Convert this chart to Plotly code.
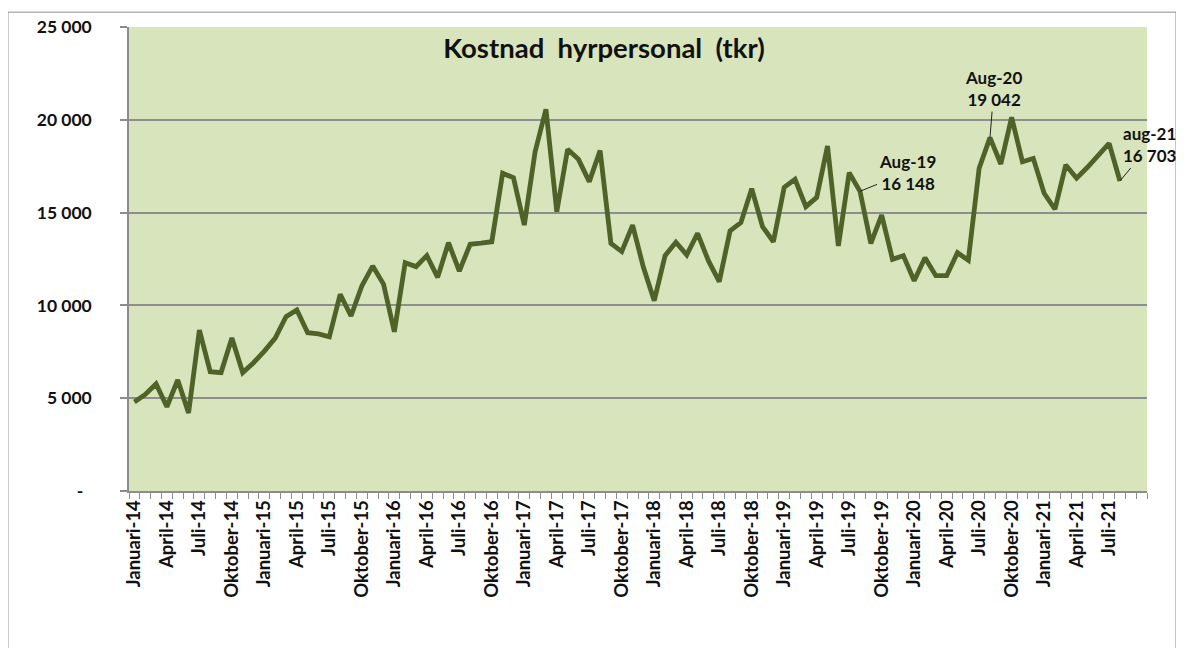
import plotly.graph_objects as go

month_names = ["Januari", "Februari", "Mars", "April", "Maj", "Juni", "Juli",
               "Augusti", "September", "Oktober", "November", "December"]
years = [14, 15, 16, 17, 18, 19, 20, 21]

values_2014 = [4800, 5200, 5770, 4540, 5980, 4200, 8670, 6430, 6380, 8240, 6380, 6910]
values_2015 = [7540, 8240, 9390, 9750, 8530, 8460, 8310, 10600, 9430, 11050, 12120, 11150]
values_2016 = [8580, 12300, 12090, 12680, 11510, 13380, 11850, 13290, 13350, 13430, 17120, 16880]
values_2017 = [14330, 18280, 20570, 15050, 18410, 17870, 16670, 18340, 13340, 12900, 14330, 12050]
values_2018 = [10250, 12680, 13400, 12720, 13880, 12410, 11280, 14010, 14460, 16290, 14240, 13430]
values_2019 = [16360, 16790, 15320, 15820, 18590, 13200, 17150, 16148, 13340, 14870, 12480, 12680]
values_2020 = [11330, 12570, 11600, 11600, 12840, 12430, 17390, 19042, 17620, 20130, 17740, 17920]
values_2021 = [16040, 15180, 17570, 16850, 17440, 18070, 18730, 16703]

values = (values_2014 + values_2015 + values_2016 + values_2017 +
          values_2018 + values_2019 + values_2020 + values_2021)

categories = [f"{m}-{y}" for y in years for m in month_names]  # Jan-14 .. Dec-21
n_axis = 94  # axis spans Jan-14 .. Okt-21
x_idx = list(range(len(values)))

tick_idx = list(range(0, len(values), 3))
tick_text = [categories[i] for i in tick_idx]

y_ticks = [0, 5000, 10000, 15000, 20000, 25000]
y_text = ["-\u00a0\u00a0", "5 000", "10 000", "15 000", "20 000", "25 000"]

# (label, index, text offset x, text offset y) in pixels
callouts = [
    ("Aug-19", 67, 47, -19),
    ("Aug-20", 79, 4, -49),
    ("aug-21", 91, 30, -36),
]

LINE = "#4f6228"
FONT = "Lato, Carlito, 'Liberation Sans', sans-serif"

fig = go.Figure()
fig.add_trace(go.Scatter(
    x=x_idx, y=values, mode="lines",
    line=dict(color=LINE, width=4.8),
    hoverinfo="skip", showlegend=False,
))

fig.update_layout(
    width=1176, height=640,
    margin=dict(l=121, r=37, t=19, b=157, autoexpand=False),
    paper_bgcolor="white",
    plot_bgcolor="#d8e4bc",
    font=dict(family=FONT, color="#1a1a1a"),
    title=dict(text="<b>Kostnad\u00a0\u00a0hyrpersonal\u00a0\u00a0(tkr)</b>", x=0.4666, xanchor="center",
               xref="paper", y=1 - 40 / 640, yref="container", yanchor="middle",
               automargin=False,
               font=dict(size=27.5, family=FONT, color="#111111")),
    showlegend=False,
)

fig.update_xaxes(
    range=[-0.5, n_axis - 0.5], automargin=False,
    tickmode="array", tickvals=tick_idx, ticktext=[f"<b>{t}</b>" for t in tick_text],
    tickangle=-90, ticks="", tickfont=dict(size=18.5, family=FONT, color="#111111"),
    showgrid=False, zeroline=False,
    showline=True, linecolor="#8c8c8c", linewidth=1.5,
    minor=dict(ticks="outside", tick0=-0.5, dtick=1, ticklen=6,
               tickcolor="#8c8c8c", tickwidth=1, showgrid=False),
)
fig.update_yaxes(
    range=[0, 25000], automargin=False,
    tickmode="array", tickvals=y_ticks, ticktext=[f"<b>{t}</b>" for t in y_text],
    ticks="outside", ticklen=7, tickcolor="#8c8c8c", tickwidth=1.5,
    ticklabelstandoff=25,
    tickfont=dict(size=17.5, family=FONT, color="#111111"),
    showgrid=True, gridcolor="#8e8e8e", gridwidth=1.5, zeroline=False,
    showline=True, linecolor="#8c8c8c", linewidth=1.5,
)

for label, i, ax, ay in callouts:
    fig.add_annotation(
        x=i, y=values[i], xref="x", yref="y",
        text=f"<b>{label}<br>{values[i]:,}</b>".replace(",", " "),
        showarrow=True, arrowhead=0, arrowwidth=1, arrowcolor="#222222",
        ax=ax, ay=ay, axref="pixel", ayref="pixel",
        font=dict(size=17, family=FONT, color="#111111"),
        align="center", xanchor="center", yanchor="middle",
    )

# outer chart border
fig.add_shape(type="rect", xref="paper", yref="paper",
              x0=-0.1189, x1=1.0285, y0=-0.36, y1=1.032,
              line=dict(color="#8c8c8c", width=1), fillcolor="rgba(0,0,0,0)",
              layer="below")

fig.write_html("out.html")
